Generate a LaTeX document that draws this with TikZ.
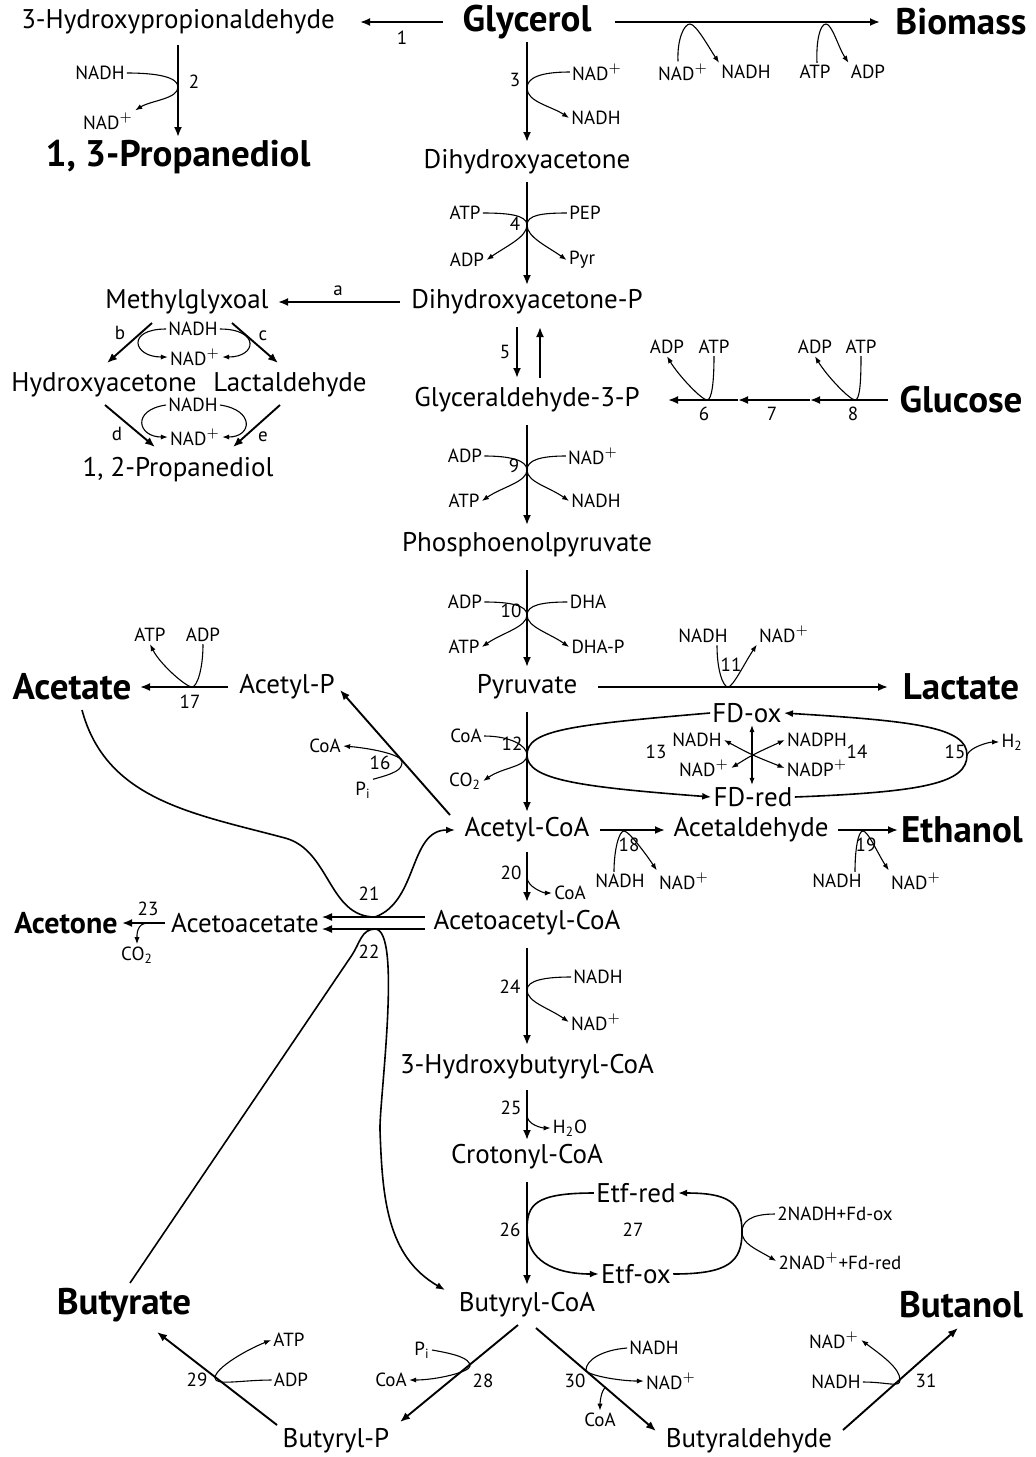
\documentclass[tikz,border=0pt]{standalone}
\usepackage{fontspec}
\setmainfont{PT Sans}
\usetikzlibrary{arrows.meta}
\tikzset{
  met/.style={font=\fontsize{13.5}{16}\selectfont, inner sep=1pt},
  prod/.style={font=\fontsize{18.5}{22}\selectfont\bfseries, inner sep=1pt},
  prodsm/.style={font=\fontsize{15}{18}\selectfont\bfseries, inner sep=1pt},
  cof/.style={font=\fontsize{9.5}{11}\selectfont, inner sep=1pt},
  num/.style={font=\fontsize{9.5}{11}\selectfont, inner sep=0pt},
  rxn/.style={line width=0.95pt, >={Latex[length=5pt,width=4pt]}, ->},
  loopline/.style={line width=0.8pt, >={Latex[length=4.5pt,width=3.5pt]}},
  side/.style={line width=0.55pt, >={Latex[length=3.5pt,width=2.6pt]}, ->},
}
\begin{document}
\begin{tikzpicture}[x=0.5pt,y=0.5pt]
\useasboundingbox (0,0) rectangle (1036,-1457);
\node[met] (hpa) at (178,-22) {3-Hydroxypropionaldehyde};
\node[prod] (glyc) at (527,-22) {Glycerol};
\node[prod] (biom) at (961,-22) {Biomass};
\node[prod] (pdo13) at (178,-157) {1, 3-Propanediol};
\node[met] (dha) at (527,-162) {Dihydroxyacetone};
\node[met] (dhap) at (527,-302) {Dihydroxyacetone-P};
\node[met] (mgo) at (187,-302) {Methylglyxoal};
\node[met] (hya) at (104,-385) {Hydroxyacetone};
\node[met] (lald) at (290,-385) {Lactaldehyde};
\node[met] (pdo12) at (178,-470) {1, 2-Propanediol};
\node[met] (gap) at (527,-400) {Glyceraldehyde-3-P};
\node[prod] (gluc) at (961,-400) {Glucose};
\node[met] (pep) at (527,-545) {Phosphoenolpyruvate};
\node[met] (pyr) at (527,-687) {Pyruvate};
\node[prod] (lac) at (961,-687) {Lactate};
\node[prod] (ace) at (72,-687) {Acetate};
\node[met] (acp) at (287,-687) {Acetyl-P};
\node[met] (fdox) at (747,-713) {FD-ox};
\node[met] (fdred) at (753,-797) {FD-red};
\node[met] (accoa) at (527,-830) {Acetyl-CoA};
\node[met] (acald) at (751,-830) {Acetaldehyde};
\node[prod] (etoh) at (962,-830) {Ethanol};
\node[met] (acac) at (245,-923) {Acetoacetate};
\node[prodsm] (acet) at (66,-923) {Acetone};
\node[met] (aacoa) at (527,-923) {Acetoacetyl-CoA};
\node[met] (hbcoa) at (527,-1067) {3-Hydroxybutyryl-CoA};
\node[met] (crcoa) at (527,-1157) {Crotonyl-CoA};
\node[met] (etfred) at (636,-1193) {Etf-red};
\node[met] (etfox) at (636,-1274) {Etf-ox};
\node[met] (bcoa) at (527,-1305) {Butyryl-CoA};
\node[prod] (buta) at (124,-1305) {Butyrate};
\node[prod] (buoh) at (961,-1305) {Butanol};
\node[met] (bp) at (336,-1441) {Butyryl-P};
\node[met] (bald) at (749,-1441) {Butyraldehyde};
\node[cof] (nadh2) at (100,-73) {NADH};
\node[cof] (nad2) at (108,-121) {NAD$^+$};
\node[cof] (nad3) at (597,-72) {NAD$^+$};
\node[cof] (nadh3) at (596,-118) {NADH};
\node[cof] (nadb) at (683,-72) {NAD$^+$};
\node[cof] (nadhb) at (746,-72) {NADH};
\node[cof] (atpb) at (815,-72) {ATP};
\node[cof] (adpb) at (868,-72) {ADP};
\node[cof] (atp4) at (465,-213) {ATP};
\node[cof] (pep4) at (585,-213) {PEP};
\node[cof] (adp4) at (467,-260) {ADP};
\node[cof] (pyr4) at (582,-260) {Pyr};
\node[cof] (nadhbc) at (193,-329) {NADH};
\node[cof] (nadbc) at (195,-357) {NAD$^+$};
\node[cof] (nadhde) at (193,-405) {NADH};
\node[cof] (nadde) at (195,-437) {NAD$^+$};
\node[cof] (adp6) at (667,-347) {ADP};
\node[cof] (atp6) at (714,-347) {ATP};
\node[cof] (adp8) at (815,-347) {ADP};
\node[cof] (atp8) at (861,-347) {ATP};
\node[cof] (adp9) at (465,-456) {ADP};
\node[cof] (nad9) at (593,-456) {NAD$^+$};
\node[cof] (atp9) at (464,-501) {ATP};
\node[cof] (nadh9) at (596,-501) {NADH};
\node[cof] (adp10) at (465,-602) {ADP};
\node[cof] (dha10) at (588,-602) {DHA};
\node[cof] (atp10) at (464,-647) {ATP};
\node[cof] (dhap10) at (598,-647) {DHA-P};
\node[cof] (nadh11) at (703,-636) {NADH};
\node[cof] (nad11) at (784,-634) {NAD$^+$};
\node[cof] (coa12) at (466,-736) {CoA};
\node[cof] (co2a) at (465,-781) {CO\textsubscript{2}};
\node[cof] (nadh13) at (697,-740) {NADH};
\node[cof] (nad13) at (704,-768) {NAD$^+$};
\node[cof] (nadph14) at (817,-740) {NADPH};
\node[cof] (nadp14) at (817,-768) {NADP$^+$};
\node[cof] (h2) at (1012,-742) {H\textsubscript{2}};
\node[cof] (coa16) at (325,-746) {CoA};
\node[cof] (pi16) at (363,-790) {P\textsubscript{i}};
\node[cof] (atp17) at (150,-635) {ATP};
\node[cof] (adp17) at (203,-635) {ADP};
\node[cof] (nadh18) at (620,-881) {NADH};
\node[cof] (nad18) at (684,-881) {NAD$^+$};
\node[cof] (nadh19) at (837,-881) {NADH};
\node[cof] (nad19) at (916,-881) {NAD$^+$};
\node[cof] (coa20) at (570,-893) {CoA};
\node[cof] (co2b) at (137,-955) {CO\textsubscript{2}};
\node[cof] (nadh24) at (598,-977) {NADH};
\node[cof] (nad24) at (596,-1022) {NAD$^+$};
\node[cof] (h2o) at (570,-1128) {H\textsubscript{2}O};
\node[cof] (nfd) at (835,-1214) {2NADH+Fd-ox};
\node[cof] (nfdr) at (840,-1261) {2NAD$^+$+Fd-red};
\node[cof] (pi28) at (422,-1350) {P\textsubscript{i}};
\node[cof] (coa28) at (391,-1380) {CoA};
\node[cof] (atp29) at (289,-1340) {ATP};
\node[cof] (adp29) at (291,-1380) {ADP};
\node[cof] (nadh30) at (654,-1348) {NADH};
\node[cof] (nad30) at (671,-1381) {NAD$^+$};
\node[cof] (coa30) at (600,-1420) {CoA};
\node[cof] (nad31) at (834,-1340) {NAD$^+$};
\node[cof] (nadh31) at (836,-1382) {NADH};
\node[num] (n1) at (402,-38) {1};
\node[num] (n2) at (194,-82) {2};
\node[num] (n3) at (515,-80) {3};
\node[num] (na) at (338,-291) {a};
\node[num] (nb) at (120,-333) {b};
\node[num] (nc) at (263,-336) {c};
\node[num] (nd) at (117,-434) {d};
\node[num] (ne) at (263,-437) {e};
\node[num] (n4) at (515,-224) {4};
\node[num] (n5) at (505,-352) {5};
\node[num] (n6) at (704,-414) {6};
\node[num] (n7) at (772,-414) {7};
\node[num] (n8) at (853,-414) {8};
\node[num] (n9) at (514,-466) {9};
\node[num] (n10) at (511,-611) {10};
\node[num] (n11) at (731,-665) {11};
\node[num] (n12) at (512,-744) {12};
\node[num] (n13) at (656,-752) {13};
\node[num] (n14) at (857,-752) {14};
\node[num] (n15) at (955,-752) {15};
\node[num] (n16) at (380,-763) {16};
\node[num] (n17) at (190,-702) {17};
\node[num] (n18) at (629,-845) {18};
\node[num] (n19) at (866,-845) {19};
\node[num] (n20) at (511,-873) {20};
\node[num] (n21) at (369,-894) {21};
\node[num] (n22) at (369,-952) {22};
\node[num] (n23) at (148,-909) {23};
\node[num] (n24) at (510,-987) {24};
\node[num] (n25) at (511,-1108) {25};
\node[num] (n26) at (510,-1230) {26};
\node[num] (n27) at (633,-1230) {27};
\node[num] (n28) at (483,-1381) {28};
\node[num] (n29) at (197,-1380) {29};
\node[num] (n30) at (575,-1381) {30};
\node[num] (n31) at (926,-1381) {31};
\coordinate (j2) at (178,-87);
\coordinate (j3) at (527,-88);
\coordinate (jb1) at (690,-24);
\coordinate (jb2) at (826,-24);
\coordinate (j4) at (527,-225);
\coordinate (j6) at (707,-400);
\coordinate (j8) at (855,-400);
\coordinate (m7) at (738,-400);
\coordinate (m8) at (810,-400);
\coordinate (j9) at (527,-470);
\coordinate (j10) at (527,-615);
\coordinate (j11) at (728,-687);
\coordinate (j12) at (527,-755);
\coordinate (j13) at (752,-755);
\coordinate (j15) at (967,-755);
\coordinate (j16) at (402,-762);
\coordinate (j17) at (192,-687);
\coordinate (j18) at (624,-831);
\coordinate (j19) at (863,-831);
\coordinate (j20) at (527,-877);
\coordinate (c21) at (285,-838);
\coordinate (j21) at (375,-917);
\coordinate (j22) at (375,-929);
\coordinate (c22a) at (352,-955);
\coordinate (c22b) at (380,-1130);
\coordinate (j23) at (148,-923);
\coordinate (j24) at (527,-990);
\coordinate (j25) at (527,-1115);
\coordinate (j26) at (527,-1230);
\coordinate (j27) at (742,-1232);
\coordinate (j28) at (470,-1366);
\coordinate (j29) at (215,-1378);
\coordinate (j30) at (586,-1370);
\coordinate (j30b) at (606,-1387);
\coordinate (j31) at (900,-1380);
\draw[rxn] ([shift={(-84,0)}]glyc.center) -- ([shift={(182,0)}]hpa.center);
\draw[rxn] ([shift={(0,-23)}]hpa.center) -- ([shift={(0,20)}]pdo13.center);
\draw[rxn] ([shift={(88,0)}]glyc.center) -- ([shift={(-81,0)}]biom.center);
\draw[rxn] ([shift={(0,-20)}]glyc.center) -- ([shift={(0,20)}]dha.center);
\draw[rxn] ([shift={(0,-20)}]dha.center) -- ([shift={(0,17)}]dhap.center);
\draw[rxn] ([shift={(-10,-25)}]dhap.center) -- ([shift={(-10,22)}]gap.center);
\draw[rxn] ([shift={(13,22)}]gap.center) -- ([shift={(13,-25)}]dhap.center);
\draw[rxn] ([shift={(0,-25)}]gap.center) -- ([shift={(0,20)}]pep.center);
\draw[rxn] ([shift={(0,-25)}]pep.center) -- ([shift={(0,20)}]pyr.center);
\draw[rxn] ([shift={(0,-25)}]pyr.center) -- ([shift={(0,18)}]accoa.center);
\draw[rxn] ([shift={(0,-22)}]accoa.center) -- ([shift={(0,21)}]aacoa.center);
\draw[rxn] ([shift={(0,-25)}]aacoa.center) -- ([shift={(0,22)}]hbcoa.center);
\draw[rxn] ([shift={(0,-23)}]hbcoa.center) -- ([shift={(0,17)}]crcoa.center);
\draw[rxn] ([shift={(0,-25)}]crcoa.center) -- ([shift={(0,20)}]bcoa.center);
\draw[rxn] ([shift={(-127,0)}]dhap.center) -- ([shift={(91,0)}]mgo.center);
\draw[rxn] ([shift={(-73,0)}]gluc.center) -- (m8);
\draw[rxn] (m8) -- (m7);
\draw[rxn] (m7) -- ([shift={(141,0)}]gap.center);
\draw[rxn] ([shift={(71,0)}]pyr.center) -- ([shift={(-73,0)}]lac.center);
\draw[rxn] ([shift={(-59,0)}]acp.center) -- ([shift={(68,0)}]ace.center);
\draw[rxn] ([shift={(73,0)}]accoa.center) -- ([shift={(-86,0)}]acald.center);
\draw[rxn] ([shift={(87,0)}]acald.center) -- ([shift={(-64,0)}]etoh.center);
\draw[rxn] ([shift={(-80,0)}]acac.center) -- ([shift={(56,0)}]acet.center);
\draw[rxn,line width=0.7pt] ([shift={(-102,6)}]aacoa.center) -- ([shift={(77,6)}]acac.center);
\draw[rxn,line width=0.7pt] ([shift={(-102,-6)}]aacoa.center) -- ([shift={(77,-6)}]acac.center);
\draw[rxn] ([shift={(-35,-21)}]mgo.center) -- ([shift={(3,22)}]hya.center);
\draw[rxn] ([shift={(45,-21)}]mgo.center) -- ([shift={(-12,22)}]lald.center);
\draw[rxn] ([shift={(1,-20)}]hya.center) -- ([shift={(-23,23)}]pdo12.center);
\draw[rxn] ([shift={(-10,-20)}]lald.center) -- ([shift={(55,23)}]pdo12.center);
\draw[rxn] ([shift={(-77,15)}]accoa.center) -- ([shift={(53,-3)}]acp.center);
\draw[rxn] ([shift={(-9,-20)}]bcoa.center) -- ([shift={(64,19)}]bp.center);
\draw[rxn] ([shift={(-59,16)}]bp.center) -- ([shift={(33,-27)}]buta.center);
\draw[rxn] ([shift={(9,-23)}]bcoa.center) -- ([shift={(-93,10)}]bald.center);
\draw[rxn] ([shift={(94,11)}]bald.center) -- ([shift={(-3,-23)}]buoh.center);
\draw[loopline,->] ([shift={(10,-23)}]ace.center) to[out=-75,in=165] (c21) to[out=-15,in=180] (j21) to[out=20,in=180] ([shift={(-72,0)}]accoa.center);
\draw[loopline,->] ([shift={(6,22)}]buta.center) -- (c22a) to[out=56,in=180] (j22) to[out=0,in=92,looseness=0.35] (c22b) to[out=-88,in=150] ([shift={(-82,15)}]bcoa.center);
\draw[side] (nadh2.east) .. controls +(30,0) and +(0,10) .. (j2) .. controls +(0,-12) and +(16,10) .. (nad2.north east);
\draw[side] (nad3.west) .. controls +(-30,0) and +(0,10) .. (j3) .. controls +(0,-14) and +(-18,12) .. (nadh3.west);
\draw[side] ([shift={(-5,0)}]nadb.north) .. controls +(-1,22) and +(-6,0) .. (jb1) .. controls +(6,0) and +(-10,15) .. (nadhb.north west);
\draw[side] ([shift={(2,0)}]atpb.north) .. controls +(-1,22) and +(-6,0) .. (jb2) .. controls +(6,0) and +(-10,15) .. (adpb.north west);
\draw[side] (atp4.east) .. controls +(25,0) and +(0,10) .. (j4) .. controls +(0,-12) and +(20,14) .. (adp4.east);
\draw[side] (pep4.west) .. controls +(-25,0) and +(0,10) .. (j4) .. controls +(0,-12) and +(-20,14) .. (pyr4.west);
\draw[side] (nadhbc.west) .. controls +(-40,0) and +(-35,0) .. (nadbc.west);
\draw[side] (nadhbc.east) .. controls +(40,0) and +(35,0) .. (nadbc.east);
\draw[side] (nadhde.west) .. controls +(-35,-5) and +(-30,0) .. (nadde.west);
\draw[side] (nadhde.east) .. controls +(35,-5) and +(30,0) .. (nadde.east);
\draw[side] (atp6.south) .. controls +(0,-25) and +(5,0) .. (j6) .. controls +(-5,0) and +(12,-20) .. (adp6.south);
\draw[side] (atp8.south) .. controls +(0,-25) and +(5,0) .. (j8) .. controls +(-5,0) and +(12,-20) .. (adp8.south);
\draw[side] (adp9.east) .. controls +(25,0) and +(0,10) .. (j9) .. controls +(0,-12) and +(20,14) .. (atp9.east);
\draw[side] (nad9.west) .. controls +(-25,0) and +(0,10) .. (j9) .. controls +(0,-12) and +(-20,14) .. (nadh9.west);
\draw[side] (adp10.east) .. controls +(25,0) and +(0,10) .. (j10) .. controls +(0,-12) and +(20,14) .. (atp10.east);
\draw[side] (dha10.west) .. controls +(-25,0) and +(0,10) .. (j10) .. controls +(0,-12) and +(-20,14) .. (dhap10.west);
\draw[side] ([shift={(14,0)}]nadh11.south) .. controls +(0,-25) and +(-5,0) .. (j11) .. controls +(5,0) and +(-12,-18) .. (nad11.south west);
\draw[side] (coa12.east) .. controls +(25,0) and +(0,10) .. (j12) .. controls +(0,-12) and +(20,14) .. (co2a.east);
\draw[loopline,->] (fdox.west) .. controls +(-140,-12) and +(0,25) .. (j12) .. controls +(0,-25) and +(-130,10) .. (fdred.west);
\draw[loopline,->] (fdred.east) .. controls +(130,5) and +(0,-28) .. (j15) .. controls +(0,28) and +(130,-8) .. (fdox.east);
\draw[side] (j15) .. controls +(3,8) and +(-10,0) .. (h2.west);
\draw[side,<->] (fdox.south -| j13) -- (fdred.north -| j13);
\draw[side,<->] (nadh13.east) .. controls (j13) .. (nadp14.west);
\draw[side,<->] (nad13.east) .. controls (j13) .. (nadph14.west);
\draw[side] (pi16.north east) .. controls +(22,6) and +(0,-8) .. (j16) .. controls +(0,8) and +(25,-2) .. (coa16.east);
\draw[side] (adp17.south) .. controls +(0,-25) and +(5,0) .. (j17) .. controls +(-6,0) and +(10,-20) .. (atp17.south);
\draw[side] ([shift={(-6,0)}]nadh18.north) .. controls +(0,22) and +(-5,0) .. (j18) .. controls +(5,0) and +(-10,15) .. (nad18.north west);
\draw[side] ([shift={(18,0)}]nadh19.north) .. controls +(0,22) and +(-5,0) .. (j19) .. controls +(5,0) and +(-10,15) .. (nad19.north west);
\draw[side] (j20) .. controls +(0,-10) and +(-8,0) .. (coa20.west);
\draw[side] (j23) .. controls +(-12,0) and +(0,8) .. (co2b.north);
\draw[side] (nadh24.west) .. controls +(-25,0) and +(0,10) .. (j24) .. controls +(0,-12) and +(-20,14) .. (nad24.west);
\draw[side] (j25) .. controls +(0,-10) and +(-8,0) .. (h2o.west);
\draw[loopline,->] (etfred.west) .. controls +(-60,0) and +(0,25) .. (j26) .. controls +(0,-30) and +(-45,0) .. (etfox.west);
\draw[loopline,->] (etfox.east) .. controls +(55,0) and +(0,-30) .. (j27) .. controls +(0,30) and +(50,0) .. (etfred.east);
\draw[side] (nfd.west) .. controls +(-25,0) and +(0,10) .. (j27) .. controls +(0,-12) and +(-20,12) .. (nfdr.west);
\draw[side] (pi28.east) .. controls +(23,-4) and +(0,8) .. (j28) .. controls +(0,-6) and +(27,0) .. (coa28.east);
\draw[side] (adp29.west) .. controls +(-30,0) and +(0,-8) .. (j29) .. controls +(0,10) and +(-25,-10) .. (atp29.west);
\draw[side] (nadh30.west) .. controls +(-25,-2) and +(0,10) .. (j30) .. controls +(0,-5) and +(-25,0) .. (nad30.west);
\draw[side] (j30b) .. controls +(-5,-3) and +(0,8) .. (coa30.north);
\draw[side] (nadh31.east) .. controls +(25,0) and +(0,-8) .. (j31) .. controls +(0,12) and +(20,-15) .. (nad31.east);
\end{tikzpicture}
\end{document}
